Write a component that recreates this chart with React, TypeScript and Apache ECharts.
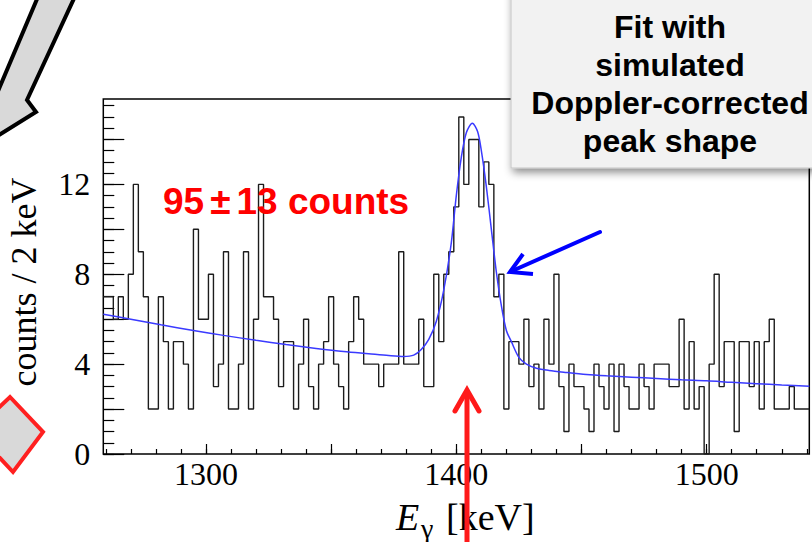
import React, { useEffect, useRef } from "react";
import * as echarts from "echarts";

// ---- data ----
const binStart = 1259; // keV, low edge of first 2 keV bin
const binWidth = 2;
const counts = [
  7, 7, 6, 7, 6, 8, 12, 9, 7, 2,
  2, 7, 5, 2, 5, 5, 4, 2, 10, 6,
  6, 8, 3, 4, 9, 2, 2, 4, 9, 2,
  6, 12, 7, 7, 6, 3, 5, 5, 2, 4,
  6, 3, 2, 4, 5, 7, 4, 3, 2, 5,
  7, 6, 4, 4, 4, 3, 4, 4, 4, 9,
  4, 4, 4, 6, 3, 3, 8, 5, 8, 9,
  11, 15, 12, 14, 14, 11, 13, 12, 7, 8,
  2, 5, 5, 4, 6, 3, 4, 2, 6, 4,
  8, 3, 1, 4, 3, 3, 2, 1, 4, 3,
  2, 4, 1, 4, 3, 2, 2, 4, 3, 2,
  4, 4, 4, 3, 3, 6, 2, 5, 2, 3,
  0, 4, 8, 3, 5, 5, 1, 5, 5, 3,
  5, 2, 5, 6, 2, 2, 2, 3, 2, 2,
  2,
];

const fitEnergy = [
  1259, 1270, 1282, 1295, 1307, 1320, 1332, 1344, 1355, 1365,
  1373, 1379, 1383, 1386, 1389, 1392, 1395, 1398, 1400, 1402,
  1404, 1406.4, 1408.5, 1410, 1412, 1414, 1416, 1418, 1420, 1422,
  1425, 1428, 1432, 1437, 1444, 1452, 1460, 1470, 1480, 1490,
  1500, 1510, 1520, 1530, 1541,
];
const fitCounts = [
  6.22, 6.0, 5.75, 5.5, 5.28, 5.06, 4.87, 4.7, 4.56, 4.46,
  4.38, 4.34, 4.4, 4.65, 5.1, 5.9, 7.3, 9.4, 11.5, 13.2,
  14.3, 14.72, 14.35, 13.5, 11.9, 10.0, 8.1, 6.6, 5.5, 5.0,
  4.3, 4.0, 3.82, 3.72, 3.63, 3.54, 3.48, 3.42, 3.36, 3.3,
  3.26, 3.19, 3.13, 3.07, 3.02,
];

const xMin = 1259;
const xMax = 1541;
const yMin = 0;
const yMax = 15.8;
const xLabelValues = [1300, 1400, 1500];
const xMajorTicks = [1300, 1350, 1400, 1450, 1500];
const xMinorTicks: number[] = [];
for (let v = 1260; v <= 1540; v += 10) xMinorTicks.push(v);
const yLabelValues = [0, 4, 8, 12];
const yMajorTicks = [0, 2, 4, 6, 8, 10, 12, 14];
const yMinorTicks: number[] = [];
for (let v = 0; v <= 15.5; v += 0.5) yMinorTicks.push(v);

const yTitle = "counts / 2 keV";
const boxText = "Fit with\nsimulated\nDoppler-corrected\npeak shape";

export default function App() {
  const ref = useRef<HTMLDivElement>(null);
  useEffect(() => {
    document.body.style.margin = "0";
    const chart = echarts.init(ref.current!, null, { renderer: "svg" });

    const histData: number[][] = counts.map((c, i) => [binStart + i * binWidth, c]);
    histData.push([binStart + counts.length * binWidth, counts[counts.length - 1]]);
    const fitData = fitEnergy.map((e, i) => [e, fitCounts[i]]);

    const serif = "Liberation Serif";
    const tickStyle = { color: "#000", width: 1.2 };
    const plain = (v: number) => String(v);

    const xBase = {
      type: "value",
      min: xMin,
      max: xMax,
      position: "bottom",
      axisLine: { show: false },
      splitLine: { show: false },
    };
    const yBase = {
      type: "value",
      min: yMin,
      max: yMax,
      position: "left",
      axisLine: { show: false },
      splitLine: { show: false },
    };

    chart.setOption({
      animation: false,
      backgroundColor: "#fff",
      grid: {
        left: 103.3,
        right: 2.7,
        top: 99,
        bottom: 88,
        show: true,
        borderColor: "#000",
        borderWidth: 1.5,
        backgroundColor: "transparent",
        outerBoundsMode: "none",
      },
      xAxis: [
        {
          ...xBase,
          axisTick: { show: true, inside: true, length: 10, customValues: xMajorTicks, lineStyle: tickStyle },
          axisLabel: {
            show: true,
            customValues: xLabelValues,
            formatter: plain,
            fontFamily: serif,
            fontSize: 32,
            color: "#000",
            margin: 4,
          },
        },
        {
          ...xBase,
          axisTick: { show: true, inside: true, length: 5, customValues: xMinorTicks, lineStyle: tickStyle },
          axisLabel: { show: false },
        },
      ],
      yAxis: [
        {
          ...yBase,
          axisTick: { show: true, inside: true, length: 21, customValues: yMajorTicks, lineStyle: tickStyle },
          axisLabel: {
            show: true,
            customValues: yLabelValues,
            formatter: plain,
            fontFamily: serif,
            fontSize: 32,
            color: "#000",
            margin: 13,
          },
        },
        {
          ...yBase,
          axisTick: { show: true, inside: true, length: 11, customValues: yMinorTicks, lineStyle: tickStyle },
          axisLabel: { show: false },
        },
      ],
      series: [
        {
          type: "line",
          xAxisIndex: 0,
          yAxisIndex: 0,
          step: "end",
          data: histData,
          showSymbol: false,
          symbol: "none",
          lineStyle: { color: "#1c1c1c", width: 1.4 },
          clip: true,
          z: 2,
        },
        {
          type: "line",
          xAxisIndex: 0,
          yAxisIndex: 0,
          data: fitData,
          smooth: 0.3,
          showSymbol: false,
          symbol: "none",
          lineStyle: { color: "#3a3aff", width: 1.5 },
          clip: true,
          z: 3,
        },
      ],
      graphic: [
        // y axis title
        {
          type: "text",
          x: 24,
          y: 282,
          rotation: Math.PI / 2,
          z: 10,
          style: {
            text: yTitle,
            font: `36px "${serif}"`,
            fill: "#000",
            align: "center",
            verticalAlign: "middle",
          },
        },
        // x axis title: E_gamma [keV]
        {
          type: "text",
          x: 396,
          y: 517,
          z: 10,
          style: { text: "E", font: `italic 38px "${serif}"`, fill: "#000", align: "left", verticalAlign: "middle" },
        },
        {
          type: "text",
          x: 421,
          y: 528,
          z: 10,
          style: { text: "γ", font: `28px "${serif}"`, fill: "#000", align: "left", verticalAlign: "middle" },
        },
        {
          type: "text",
          x: 446,
          y: 517,
          z: 10,
          style: { text: "[keV]", font: `38px "${serif}"`, fill: "#000", align: "left", verticalAlign: "middle" },
        },
        // red annotation
        {
          type: "text",
          x: 163,
          y: 201,
          z: 10,
          style: {
            text: "{a|95}{b|±}{a|13 counts}",
            align: "left",
            verticalAlign: "middle",
            rich: {
              a: { font: 'bold 37px "Liberation Sans"', fill: "#ff0000" },
              b: { font: 'bold 37px "Liberation Sans"', fill: "#ff0000", padding: [0, 6, 0, 6] },
            },
          },
        },
        // grey box
        {
          type: "rect",
          z: 20,
          shape: { x: 511, y: -20, width: 340, height: 188 },
          style: {
            fill: "#f2f2f2",
            stroke: "#c4c4c4",
            lineWidth: 1,
            shadowBlur: 8,
            shadowOffsetX: 2,
            shadowOffsetY: 4,
            shadowColor: "rgba(0,0,0,0.45)",
          },
        },
        {
          type: "text",
          x: 670,
          y: 84,
          z: 21,
          style: {
            text: boxText,
            font: 'bold 32px "Liberation Sans"',
            lineHeight: 38,
            fill: "#000",
            align: "center",
            verticalAlign: "middle",
          },
        },
        // blue arrow
        {
          type: "polyline",
          z: 15,
          shape: { points: [[600, 232], [512, 271]] },
          style: { stroke: "#0000ff", lineWidth: 4, lineCap: "round" },
        },
        {
          type: "polyline",
          z: 15,
          shape: { points: [[523, 254], [510, 272], [533, 274]] },
          style: { stroke: "#0000ff", lineWidth: 4, fill: "none", lineJoin: "miter" },
        },
        // red arrow
        {
          type: "polyline",
          z: 15,
          shape: { points: [[467, 545], [467, 390]] },
          style: { stroke: "#ff1a1a", lineWidth: 5 },
        },
        {
          type: "polyline",
          z: 15,
          shape: { points: [[455, 411], [467, 390], [479, 411]] },
          style: { stroke: "#ff1a1a", lineWidth: 5, fill: "none", lineJoin: "miter", lineCap: "round" },
        },
        // top-left grey arrow (black outline)
        {
          type: "polygon",
          z: 15,
          shape: { points: [[40, -8], [77, -8], [27, 100], [36, 112], [-25, 150], [-10, 110]] },
          style: { fill: "#d9d9d9", stroke: "#000", lineWidth: 4, lineJoin: "miter" },
        },
        // bottom-left grey arrow (red outline)
        {
          type: "polygon",
          z: 15,
          shape: { points: [[-12, 418], [10, 397], [43, 432], [13, 472], [0, 458], [-12, 462]] },
          style: { fill: "#d9d9d9", stroke: "#ff2020", lineWidth: 4, lineJoin: "miter" },
        },
      ],
    });
    return () => chart.dispose();
  }, []);
  return <div ref={ref} style={{ position: "fixed", left: 0, top: 0, width: 812, height: 542 }} />;
}
